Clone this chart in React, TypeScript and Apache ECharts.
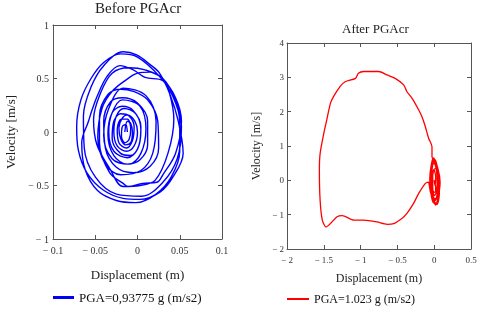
import React, { useEffect, useRef } from "react";
import * as echarts from "echarts";

const FONT = "'Liberation Serif', 'Times New Roman', serif";

const beforeTitle = "Before PGAcr";
const afterTitle = "After PGAcr";
const beforeLegend = "PGA=0,93775 g (m/s2)";
const afterLegend = "PGA=1.023 g (m/s2)";
const xName = "Displacement (m)";
const yName = "Velocity [m/s]";

// [displacement (m), velocity (m/s)] before PGAcr
const beforeTrajectory: number[][] = [
  [-0.015, 0.0], [-0.012, 0.1], [-0.008, 0.08], [-0.006, 0.0], [-0.008, -0.1], [-0.014, -0.12], [-0.02, -0.06], [-0.022, 0.04], [-0.018, 0.13],
  [-0.012, 0.16], [-0.003, 0.1], [0.0, 0.0], [-0.004, -0.13], [-0.013, -0.18], [-0.024, -0.13], [-0.028, 0.0], [-0.025, 0.15],
  [-0.016, 0.22], [-0.002, 0.17], [0.004, 0.02], [0.0, -0.16], [-0.012, -0.24], [-0.028, -0.18], [-0.034, 0.0], [-0.03, 0.18],
  [-0.018, 0.3], [0.003, 0.24], [0.01, 0.03], [0.004, -0.2], [-0.01, -0.3], [-0.03, -0.25], [-0.04, -0.03], [-0.034, 0.22],
  [-0.017, 0.41], [0.01, 0.34], [0.022, 0.1], [0.018, -0.2], [0.004, -0.36], [-0.02, -0.4], [-0.038, -0.3], [-0.047, -0.05], [-0.042, 0.22], [-0.03, 0.38],
  [-0.013, 0.49], [0.0, 0.55], [0.015, 0.56], [0.03, 0.49], [0.038, 0.36], [0.043, 0.12], [0.036, -0.2], [0.021, -0.45], [0.003, -0.5], [-0.017, -0.51], [-0.033, -0.34], [-0.048, -0.12], [-0.052, 0.12], [-0.044, 0.36],
  [-0.03, 0.55], [-0.01, 0.6], [0.009, 0.58], [0.03, 0.5], [0.045, 0.3], [0.052, 0.05], [0.047, -0.25], [0.03, -0.47], [0.005, -0.6], [-0.025, -0.58], [-0.05, -0.42], [-0.063, -0.15], [-0.064, 0.15], [-0.055, 0.42], [-0.04, 0.62],
  [-0.017, 0.75], [-0.001, 0.72], [0.015, 0.63], [0.026, 0.55], [0.038, 0.36], [0.048, 0.11], [0.054, -0.2], [0.042, -0.42], [0.027, -0.56], [0.003, -0.63], [-0.017, -0.62], [-0.041, -0.54], [-0.06, -0.38], [-0.07, -0.17], [-0.072, 0.05], [-0.067, 0.3], [-0.055, 0.5], [-0.04, 0.65],
  [-0.02, 0.73], [0.0, 0.7], [0.026, 0.52], [0.042, 0.33], [0.05, 0.1], [0.05, -0.18], [0.04, -0.42], [0.022, -0.58], [-0.002, -0.66], [-0.025, -0.64], [-0.047, -0.55], [-0.062, -0.35], [-0.066, -0.1], [-0.058, 0.1], [-0.054, 0.2], [-0.048, 0.33], [-0.036, 0.52], [-0.021, 0.62],
  [-0.005, 0.58], [0.009, 0.51], [0.03, 0.48], [0.045, 0.32], [0.052, 0.1], [0.045, -0.2], [0.03, -0.4], [0.023, -0.47], [0.006, -0.48], [-0.011, -0.51], [-0.017, -0.48], [-0.033, -0.38],
  [-0.045, -0.1], [-0.045, 0.15], [-0.035, 0.35], [-0.02, 0.4], [-0.005, 0.38], [0.012, 0.3], [0.024, 0.1], [0.025, -0.15], [0.015, -0.32], [-0.005, -0.38], [-0.025, -0.33], [-0.038, -0.15],
  [-0.04, 0.1], [-0.032, 0.28], [-0.018, 0.32], [0.0, 0.27], [0.012, 0.1], [0.012, -0.12], [0.003, -0.26], [-0.012, -0.3], [-0.028, -0.22], [-0.035, -0.02],
  [-0.03, 0.18], [-0.018, 0.24], [-0.005, 0.2], [0.004, 0.05], [0.002, -0.12], [-0.008, -0.22], [-0.02, -0.2], [-0.03, -0.06],
  [-0.028, 0.1], [-0.02, 0.17], [-0.01, 0.15], [-0.004, 0.05], [-0.006, -0.08], [-0.013, -0.15], [-0.022, -0.1], [-0.024, 0.02],
  [-0.019, 0.12], [-0.012, 0.12], [-0.008, 0.03], [-0.01, -0.07], [-0.015, -0.1], [-0.019, -0.04], [-0.018, 0.05], [-0.014, 0.07], [-0.012, 0.0],
];

// [displacement (m), velocity (m/s)] after PGAcr
const afterTrajectory: number[][] = [
  [0, 0], [0.02, -0.2], [0.01, -0.35], [-0.02, -0.3], [-0.03, 0], [-0.01, 0.3], [0.02, 0.35], [0.04, 0.1], [0.05, -0.3], [0.03, -0.55],
  [-0.01, -0.5], [-0.04, -0.2], [-0.05, 0.1], [-0.03, 0.5], [0.01, 0.6], [0.04, 0.4], [0.06, 0.0], [0.05, -0.5], [0.02, -0.7],
  [-0.02, -0.62], [-0.05, -0.3], [-0.06, 0.05], [-0.04, 0.45], [-0.01, 0.65], [0.03, 0.5], [0.07, 0.05], [0.07, -0.4], [0.04, -0.7],
  [0.0, -0.65], [-0.05, -0.35], [-0.07, -0.1], [-0.08, -0.05],
  [-0.12, -0.09], [-0.21, -0.38], [-0.28, -0.67], [-0.37, -0.96], [-0.44, -1.11], [-0.55, -1.26], [-0.64, -1.28], [-0.78, -1.21],
  [-0.96, -1.16], [-1.09, -1.16], [-1.25, -1.03], [-1.32, -1.06], [-1.41, -1.26], [-1.47, -1.36], [-1.52, -1.16], [-1.55, -0.58],
  [-1.56, 0.3], [-1.55, 0.78], [-1.5, 1.37], [-1.46, 1.76], [-1.41, 2.24], [-1.37, 2.43], [-1.28, 2.73], [-1.21, 2.87], [-1.07, 2.97],
  [-1.03, 3.12], [-0.958, 3.17], [-0.754, 3.17], [-0.641, 3.07], [-0.53, 2.97], [-0.415, 2.78], [-0.37, 2.58], [-0.3, 2.39],
  [-0.21, 2.05], [-0.166, 1.85], [-0.12, 1.56], [-0.075, 1.22], [-0.03, 0.98], [-0.03, 0.69],
  [0.0, 0.55], [0.04, 0.3], [0.06, -0.1], [0.05, -0.5], [0.02, -0.72], [-0.01, -0.6], [-0.04, -0.2], [-0.05, 0.2], [-0.03, 0.55],
  [0.0, 0.62], [0.03, 0.4], [0.05, 0.0], [0.04, -0.4], [0.01, -0.6], [-0.02, -0.45], [-0.04, -0.1], [-0.03, 0.3],
  [0.0, 0.58], [0.05, 0.35], [0.08, -0.05], [0.06, -0.45], [0.03, -0.68], [-0.02, -0.55], [-0.06, -0.15], [-0.05, 0.3],
  [0.0, 0.5], [0.03, 0.3], [0.04, -0.05], [0.03, -0.35], [0.0, -0.45], [-0.02, -0.2], [-0.02, 0.15],
  [0.0, 0.3], [0.02, 0.1], [0.01, -0.15], [0, 0],
];

const beforeXTicks = { min: -0.1, max: 0.1, interval: 0.05 };
const beforeYTicks = { min: -1, max: 1, interval: 0.5 };
const afterXTicks = { min: -2, max: 0.5, interval: 0.5 };
const afterYTicks = { min: -2, max: 4, interval: 1 };

const fmt = (v: number) => (v < 0 ? "\u2212 " + String(-v) : String(v));

export default function App() {
  const ref = useRef<HTMLDivElement>(null);
  useEffect(() => {
    if (!ref.current) return;
    const chart = echarts.init(ref.current, null, { renderer: "svg" });
    const axisLine = { show: true, onZero: false, lineStyle: { color: "#555", width: 1 } };
    const tick = { show: true, inside: true, length: 4, lineStyle: { color: "#555" } };
    const hidden = { show: false };
    const mkX = (grid: number, t: any, fs: number, gap: number, nfs: number) => [
      {
        type: "value", gridIndex: grid, position: "bottom", ...t,
        axisLine, axisTick: tick, splitLine: hidden,
        axisLabel: { formatter: fmt, fontFamily: FONT, fontSize: fs, color: "#333", margin: 6 },
        name: xName, nameLocation: "middle", nameGap: gap,
        nameTextStyle: { fontFamily: FONT, fontSize: nfs, color: "#222" },
      },
      {
        type: "value", gridIndex: grid, position: "top", ...t,
        axisLine, axisTick: tick, splitLine: hidden, axisLabel: hidden,
      },
    ];
    const mkY = (grid: number, t: any, fs: number, gap: number, nfs: number, m: number) => [
      {
        type: "value", gridIndex: grid, position: "left", ...t,
        axisLine, axisTick: tick, splitLine: hidden,
        axisLabel: { formatter: fmt, fontFamily: FONT, fontSize: fs, color: "#333", margin: m },
        name: yName, nameLocation: "middle", nameGap: gap,
        nameTextStyle: { fontFamily: FONT, fontSize: nfs, color: "#222" },
      },
      {
        type: "value", gridIndex: grid, position: "right", ...t,
        axisLine, axisTick: tick, splitLine: hidden, axisLabel: hidden,
      },
    ];
    chart.setOption({
      animation: false,
      title: [
        { text: beforeTitle, left: 95, top: 0, padding: 0, textStyle: { fontFamily: FONT, fontSize: 15, fontWeight: "normal", color: "#222" } },
        { text: afterTitle, left: 342, top: 22, padding: 0, textStyle: { fontFamily: FONT, fontSize: 13, fontWeight: "normal", color: "#222" } },
      ],
      legend: [
        { data: [beforeLegend], left: 53, top: 291, padding: 0, icon: "rect", itemWidth: 21, itemHeight: 3, selectedMode: false, textStyle: { fontFamily: FONT, fontSize: 13, color: "#111" } },
        { data: [afterLegend], left: 287, top: 293, padding: 0, icon: "rect", itemWidth: 22, itemHeight: 2, selectedMode: false, textStyle: { fontFamily: FONT, fontSize: 12, color: "#111" } },
      ],
      grid: [
        { left: 53, top: 25, width: 169, height: 214 },
        { left: 287, top: 43, width: 184, height: 206 },
      ],
      xAxis: [...mkX(0, beforeXTicks, 10, 29, 13), ...mkX(1, afterXTicks, 9, 23, 12)],
      yAxis: [...mkY(0, beforeYTicks, 10, 36, 13, 4), ...mkY(1, afterYTicks, 9, 25, 12, 3)],
      series: [
        {
          name: beforeLegend, type: "line", xAxisIndex: 0, yAxisIndex: 0,
          data: beforeTrajectory, symbol: "none", smooth: 0.35,
          lineStyle: { color: "#0000FF", width: 1.4 }, itemStyle: { color: "#0000FF" },
        },
        {
          name: afterLegend, type: "line", xAxisIndex: 2, yAxisIndex: 2,
          data: afterTrajectory, symbol: "none", smooth: 0.25,
          lineStyle: { color: "#FF0000", width: 1.3 }, itemStyle: { color: "#FF0000" },
        },
      ],
    });
    return () => chart.dispose();
  }, []);
  return <div ref={ref} style={{ position: "fixed", left: 0, top: 0, width: 480, height: 309 }} />;
}
